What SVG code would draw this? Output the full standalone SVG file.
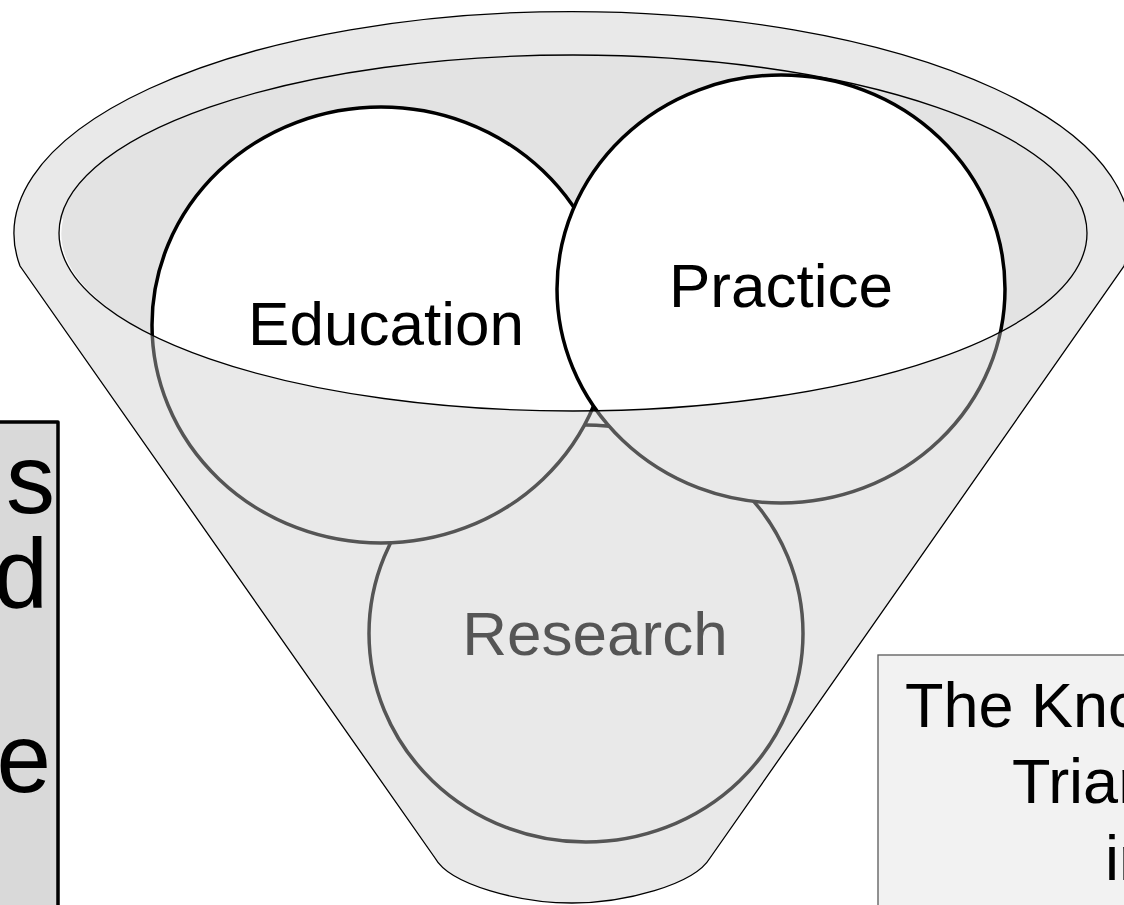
<svg xmlns="http://www.w3.org/2000/svg" width="1124" height="905" viewBox="0 0 1124 905">
<style>
.lbl{font-family:"Liberation Sans",Arial,sans-serif;fill:#000}
.circ{fill:#fff;stroke:#000;stroke-width:3.5}
.thin{fill:none;stroke:#000;stroke-width:1.3}
</style>
<defs>
<path id="front" d="M59,233 A514,178 0 0 0 1087,233 L1128,233 L1124,266 L710,858 C694,885 624,903 572,903 C520,903 450,885 435,858 L20,266 L14,233 Z"/>
</defs>
<rect width="1124" height="905" fill="#fff"/>
<g id="left-box">
<rect x="-10" y="422" width="68" height="500" fill="#d9d9d9" stroke="#000" stroke-width="3.5" stroke-linejoin="round"/>
<text class="lbl" font-size="98" text-anchor="end" x="55" y="513">s</text>
<text class="lbl" font-size="98" text-anchor="end" x="48" y="607">d</text>
<text class="lbl" font-size="98" text-anchor="end" x="51" y="792">e</text>
</g>
<g id="funnel-back">
<path d="M20,266 A558,222 0 1 1 1124,266 L710,858 C694,885 624,903 572,903 C520,903 450,885 435,858 Z" fill="#e9e9e9"/>
<ellipse cx="573" cy="233" rx="514" ry="178" fill="#e3e3e3"/>
<use href="#front" fill="#fff"/>
</g>
<g id="research">
<ellipse class="circ" cx="586" cy="633.5" rx="217" ry="208.5"/>
<text class="lbl" font-size="62" text-anchor="middle" x="595" y="655">Research</text>
</g>
<g id="education">
<ellipse class="circ" cx="381" cy="325" rx="229" ry="218"/>
<text class="lbl" font-size="62" text-anchor="middle" x="386" y="345">Education</text>
</g>
<g id="practice">
<ellipse class="circ" cx="781" cy="289" rx="224" ry="214"/>
<text class="lbl" font-size="62" text-anchor="middle" x="781" y="307">Practice</text>
</g>
<g id="funnel-front">
<use href="#front" fill="#cacaca" fill-opacity="0.42"/>
<path d="M62.5,218.5 A514,178 0 0 0 108.7,309" fill="none" stroke="#fff" stroke-width="1.5"/>
<path class="thin" d="M20,266 A558,222 0 1 1 1124,266 L710,858 C694,885 624,903 572,903 C520,903 450,885 435,858 Z"/>
<ellipse class="thin" cx="573" cy="233" rx="514" ry="178"/>
</g>
<g id="right-box">
<rect x="878" y="655" width="260" height="260" fill="#f2f2f2" stroke="#595959" stroke-width="1.3"/>
<text class="lbl" font-size="63" x="905" y="727">The Kno</text>
<text class="lbl" font-size="63" x="1012" y="803">Trian</text>
<text class="lbl" font-size="63" x="1105" y="880">in</text>
</g>
<g id="connectors"></g>
</svg>
